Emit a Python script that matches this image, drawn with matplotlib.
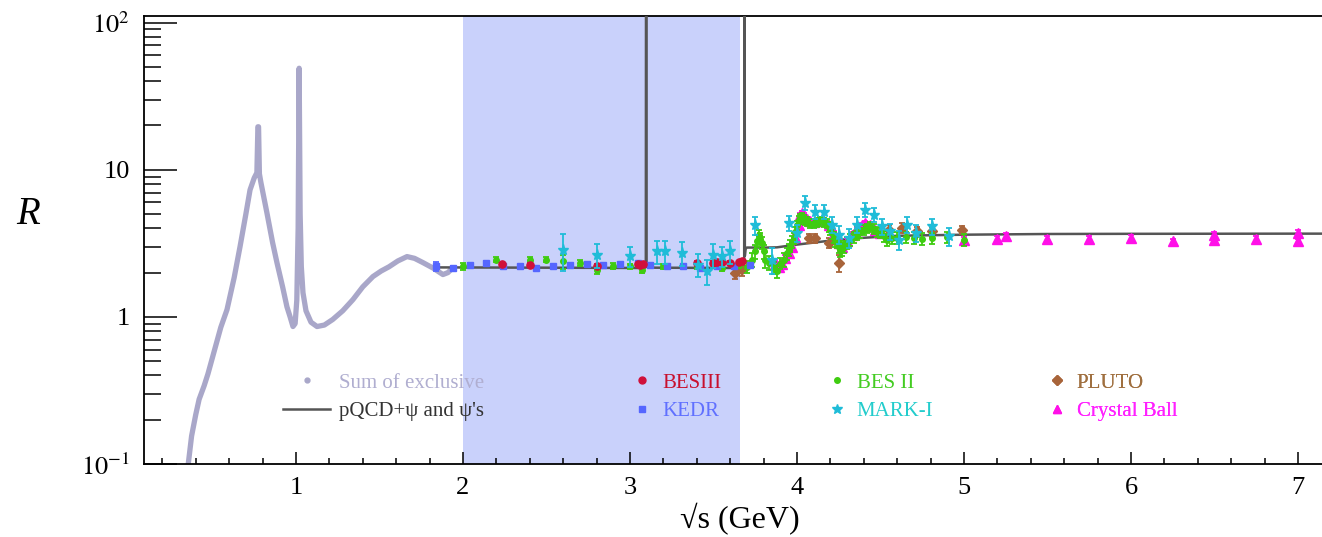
import matplotlib
matplotlib.use("Agg")
import matplotlib.pyplot as plt
from matplotlib.lines import Line2D
from matplotlib.ticker import FixedLocator, FixedFormatter, LogLocator, NullFormatter, MultipleLocator

plt.rcParams['font.family'] = ['Liberation Serif', 'DejaVu Serif']
plt.rcParams['mathtext.fontset'] = 'stix'

# ---- data (sqrt(s) in GeV, R) ----
sum_E = [0.345, 0.355, 0.375, 0.40, 0.42, 0.45, 0.473, 0.52, 0.55, 0.587, 0.63, 0.665,
         0.70, 0.725, 0.75, 0.766, 0.772, 0.776, 0.781, 0.79, 0.826, 0.86, 0.886, 0.92,
         0.946, 0.965, 0.982, 0.995, 1.005, 1.013, 1.019, 1.025, 1.032, 1.042, 1.06,
         1.09, 1.126, 1.17, 1.22, 1.28, 1.341, 1.40, 1.461, 1.51, 1.557, 1.61, 1.665,
         1.71, 1.76, 1.82, 1.88, 1.91, 1.94]
sum_R = [0.085, 0.10, 0.155, 0.217, 0.275, 0.34, 0.41, 0.64, 0.85, 1.12, 1.85, 3.0,
         5.0, 7.3, 8.8, 9.55, 19.6, 19.6, 9.4, 8.2, 5.1, 3.2, 2.34, 1.6,
         1.17, 1.0, 0.86, 0.9, 1.3, 4.0, 49.0, 5.0, 2.2, 1.46, 1.1,
         0.92, 0.86, 0.88, 0.96, 1.1, 1.31, 1.6, 1.88, 2.05, 2.19, 2.4, 2.57,
         2.5, 2.34, 2.15, 1.94, 2.0, 2.16]

pqcd_E = [1.84, 2.5, 3.05, 3.09, 3.095, 3.097, 3.099, 3.104, 3.15, 3.6, 3.680, 3.684,
          3.686, 3.688, 3.692, 3.70, 3.76, 3.82, 3.88, 4.0, 4.2, 4.4, 4.6, 5.0, 5.5,
          6.0, 7.0, 7.2]
pqcd_R = [2.17, 2.16, 2.15, 2.16, 2.3, 5000, 2.3, 2.18, 2.16, 2.15, 2.16, 2.4,
          5000, 2.6, 2.9, 2.96, 2.96, 2.96, 2.97, 3.1, 3.3, 3.45, 3.56, 3.62, 3.66,
          3.67, 3.68, 3.68]

besiii_E = [2.2324, 2.4, 2.8, 3.05, 3.06, 3.08, 3.4, 3.5, 3.52, 3.55, 3.6, 3.65, 3.671]
besiii_R = [2.29, 2.26, 2.23, 2.29, 2.27, 2.30, 2.33, 2.33, 2.35, 2.35, 2.33, 2.35, 2.38]
besiii_err = [0.05, 0.05, 0.05, 0.05, 0.05, 0.05, 0.05, 0.05, 0.05, 0.05, 0.05, 0.05, 0.05]

kedr_E = [1.84, 1.94, 2.04, 2.14, 2.24, 2.34, 2.44, 2.54, 2.64, 2.74, 2.84, 2.94, 3.05,
          3.12, 3.22, 3.32, 3.42, 3.52, 3.62, 3.72]
kedr_R = [2.21, 2.15, 2.26, 2.33, 2.21, 2.21, 2.15, 2.21, 2.24, 2.29, 2.24, 2.29, 2.33,
          2.24, 2.21, 2.21, 2.15, 2.21, 2.21, 2.24]
kedr_err = [0.15, 0.06, 0.06, 0.06, 0.06, 0.06, 0.06, 0.06, 0.06, 0.06, 0.06, 0.06, 0.06,
            0.06, 0.06, 0.06, 0.06, 0.06, 0.06, 0.06]

besii_E = [2.0, 2.2, 2.4, 2.5, 2.6, 2.7, 2.8, 2.9, 3.0, 3.07, 3.2, 3.4, 3.55, 3.65,
           3.70, 3.73, 3.75, 3.76, 3.77, 3.78, 3.79, 3.80, 3.81, 3.83, 3.86, 3.88, 3.90,
           3.92, 3.94, 3.95, 3.96, 3.97, 3.98, 3.99, 4.00, 4.01, 4.02, 4.03, 4.04, 4.05,
           4.06, 4.08, 4.10, 4.12, 4.14, 4.16, 4.18, 4.19, 4.20, 4.21, 4.22, 4.23, 4.24,
           4.25, 4.26, 4.27, 4.28, 4.30, 4.32, 4.34, 4.36, 4.38, 4.40, 4.42, 4.44, 4.46,
           4.48, 4.50, 4.52, 4.54, 4.57, 4.60, 4.65, 4.70, 4.75, 4.81, 4.90, 5.00]
besii_R = [2.21, 2.45, 2.45, 2.45, 2.38, 2.33, 2.09, 2.21, 2.21, 2.09, 2.21, 2.21, 2.15, 2.24,
           2.20, 2.45, 2.79, 3.30, 3.62, 3.40, 3.18, 2.79, 2.45, 2.33, 2.15, 2.04, 2.30,
           2.45, 2.70, 2.86, 3.05, 3.25, 3.44, 3.80, 4.20, 4.58, 4.70, 4.80, 4.60, 4.50,
           4.46, 4.30, 4.35, 4.40, 4.46, 4.40, 4.35, 4.10, 3.90, 3.70, 3.50, 3.30, 3.26,
           3.00, 2.86, 2.90, 3.00, 3.20, 3.35, 3.50, 3.62, 3.75, 3.90, 4.00, 4.10, 3.95,
           3.80, 3.72, 3.55, 3.35, 3.45, 3.45, 3.50, 3.45, 3.40, 3.43, 3.50, 3.35]
besii_err = [0.12, 0.1, 0.1, 0.1, 0.25, 0.1, 0.12, 0.1, 0.08, 0.1, 0.08, 0.1, 0.1, 0.1,
             0.2, 0.25, 0.3, 0.3, 0.3, 0.3, 0.3, 0.3, 0.3, 0.25, 0.2, 0.2, 0.2,
             0.25, 0.25, 0.25, 0.3, 0.3, 0.3, 0.3, 0.3, 0.3, 0.3, 0.3, 0.3, 0.3,
             0.3, 0.3, 0.3, 0.3, 0.3, 0.3, 0.3, 0.3, 0.3, 0.3, 0.3, 0.3, 0.3,
             0.3, 0.3, 0.3, 0.3, 0.3, 0.3, 0.3, 0.3, 0.3, 0.3, 0.3, 0.3, 0.3,
             0.3, 0.3, 0.3, 0.3, 0.3, 0.3, 0.3, 0.3, 0.3, 0.3, 0.3, 0.3]

marki_E = [2.6, 2.8, 3.0, 3.16, 3.21, 3.31, 3.41, 3.46, 3.50, 3.55, 3.60, 3.75, 3.85, 3.95,
           4.0, 4.05, 4.11, 4.16, 4.21, 4.25, 4.31, 4.36, 4.41, 4.46, 4.51, 4.56, 4.61,
           4.66, 4.71, 4.81, 4.91]
marki_R = [2.86, 2.65, 2.58, 2.79, 2.79, 2.72, 2.26, 2.04, 2.65, 2.60, 2.79, 4.2, 2.45, 4.35,
           3.72, 5.95, 5.2, 5.2, 4.24, 3.62, 3.43, 4.24, 5.35, 4.95, 4.12, 3.81, 3.35,
           4.24, 3.72, 4.12, 3.52]
marki_err = [0.8, 0.5, 0.4, 0.5, 0.5, 0.5, 0.4, 0.4, 0.5, 0.4, 0.5, 0.6, 0.5, 0.5,
             0.5, 0.65, 0.55, 0.55, 0.5, 0.5, 0.5, 0.5, 0.55, 0.55, 0.5, 0.5, 0.5,
             0.5, 0.5, 0.5, 0.5]

pluto_E = [3.63, 3.67, 4.07, 4.11, 4.19, 4.25, 4.36, 4.55, 4.63, 4.72, 4.81, 4.99]
pluto_R = [2.0, 2.1, 3.43, 3.43, 3.18, 2.32, 3.81, 3.9, 4.02, 3.81, 3.81, 3.9]
pluto_err = [0.2, 0.2, 0.25, 0.25, 0.25, 0.3, 0.3, 0.3, 0.3, 0.3, 0.3, 0.25]

cb_E = [3.87, 3.89, 3.91, 3.93, 3.95, 3.97, 3.99, 4.01, 4.02, 4.03, 4.04, 4.06, 4.08, 4.10,
        4.13, 4.16, 4.19, 4.22, 4.25, 4.27, 4.30, 4.33, 4.36, 4.39, 4.41, 4.44, 4.47, 4.50,
        5.0, 5.2, 5.25, 5.5, 5.75, 6.0, 6.25, 6.5, 6.5, 6.75, 7.0, 7.0]
cb_R = [2.3, 2.2, 2.3, 2.5, 2.7, 3.0, 3.5, 4.2, 4.9, 5.1, 4.9, 4.6, 4.5, 4.4,
        4.5, 4.5, 4.2, 3.7, 3.2, 3.0, 3.3, 3.6, 3.9, 4.2, 4.35, 4.2, 3.9, 3.7,
        3.35, 3.38, 3.56, 3.38, 3.38, 3.44, 3.26, 3.62, 3.35, 3.38, 3.72, 3.26]

# ---- colours ----
c_sum = '#a9a7c9'
c_pqcd = '#555555'
c_besiii = '#d0103a'
c_kedr = '#5566ff'
c_besii = '#3fcc10'
c_marki = '#1fbcd8'
c_pluto = '#a8643a'
c_cb = '#ff10e8'

fig = plt.figure(figsize=(13.22, 5.37), dpi=100)
ax = fig.add_axes([144 / 1322, 73 / 537, 1178 / 1322, 448 / 537])

ax.axvspan(2.0, 3.66, color='#c9d1fb', lw=0, zorder=0)

ax.plot(sum_E, sum_R, color=c_sum, lw=3.8, solid_capstyle='round', zorder=2)
ax.plot(pqcd_E, pqcd_R, color=c_pqcd, lw=1.8, zorder=3)

eb = dict(ls='none', elinewidth=1.3, capsize=2.2, capthick=1.3)
ax.errorbar(pluto_E, pluto_R, yerr=pluto_err, fmt='D', ms=5, color=c_pluto, zorder=4, **eb)
ax.errorbar(cb_E, cb_R, yerr=[0.15] * len(cb_E), fmt='^', ms=7, color=c_cb, zorder=5, **eb)
ax.errorbar(besii_E, besii_R, yerr=besii_err, fmt='o', ms=4, color=c_besii, zorder=6, **eb)
ax.errorbar(kedr_E, kedr_R, yerr=kedr_err, fmt='s', ms=4.5, color=c_kedr, zorder=6, **eb)
ax.errorbar(besiii_E, besiii_R, yerr=besiii_err, fmt='o', ms=5.2, color=c_besiii, zorder=7, **eb)
ax.errorbar(marki_E, marki_R, yerr=marki_err, fmt='*', ms=8, color=c_marki, zorder=8, **eb)

ax.set_yscale('log')
ax.set_xlim(0.09, 7.144)
ax.set_ylim(0.1, 111)

ax.yaxis.set_major_locator(FixedLocator([0.1, 1, 10, 100]))
ax.yaxis.set_major_formatter(FixedFormatter([r'$10^{-1}$', '1', '10', r'$10^{2}$']))
ax.yaxis.set_minor_locator(LogLocator(base=10, subs=range(2, 10)))
ax.yaxis.set_minor_formatter(NullFormatter())
ax.xaxis.set_major_locator(MultipleLocator(1))
ax.xaxis.set_minor_locator(MultipleLocator(0.2))
ax.set_xticks([1, 2, 3, 4, 5, 6, 7])

ax.tick_params(axis='y', which='major', direction='in', length=24, width=1.1, labelsize=19, pad=10)
ax.tick_params(axis='y', which='minor', direction='in', length=12, width=1.1)
ax.tick_params(axis='x', which='major', direction='in', length=8.5, width=1.1, labelsize=19, pad=9)
ax.tick_params(axis='x', which='minor', direction='in', length=4.3, width=1.1)
ax.tick_params(top=False, right=False, which='both')

ax.spines['right'].set_visible(False)
for s in ['left', 'bottom', 'top']:
    ax.spines[s].set_linewidth(1.3)

ax.set_xlabel('√s (GeV)', fontsize=23)
ax.xaxis.set_label_coords(596 / 1178, -55 / 448)
ax.xaxis.label.set_va('center')
ax.set_ylabel('R', fontsize=28, fontstyle='italic', rotation=0)
ax.yaxis.set_label_coords(-116 / 1178, 249 / 448)
ax.yaxis.label.set_va('center')
ax.yaxis.label.set_ha('center')

# ---- legend, four columns ----
legfs = 15
cols = [
    ([Line2D([], [], marker='o', ls='none', ms=3.5, color=c_sum),
      Line2D([], [], color=c_pqcd, lw=1.8)],
     ['Sum of exclusive', "pQCD+ψ and ψ's"], ['#b0aed0', '#333333'], 283, 2.26),
    ([Line2D([], [], marker='o', ls='none', ms=5, color=c_besiii),
      Line2D([], [], marker='s', ls='none', ms=4.5, color=c_kedr)],
     ['BESIII', 'KEDR'], ['#c8102e', '#6070ff'], 632, 1.0),
    ([Line2D([], [], marker='o', ls='none', ms=4, color=c_besii),
      Line2D([], [], marker='*', ls='none', ms=7, color=c_marki)],
     ['BES II', 'MARK-I'], ['#44cc22', '#22cccc'], 826.6, 1.0),
    ([Line2D([], [], marker='D', ls='none', ms=5, color=c_pluto),
      Line2D([], [], marker='^', ls='none', ms=6, color=c_cb)],
     ['PLUTO', 'Crystal Ball'], ['#a07040', '#ff20ff'], 1046.6, 1.0),
]
for handles, labels, tcolors, x0, hl in cols:
    leg = ax.legend(handles, labels, loc='center left',
                    bbox_to_anchor=(x0 / 1322, 1 - 397 / 537), bbox_transform=fig.transFigure,
                    frameon=False, fontsize=legfs, borderpad=0, borderaxespad=0,
                    handlelength=hl, handletextpad=0.45, labelspacing=0.42)
    for t, c in zip(leg.get_texts(), tcolors):
        t.set_color(c)
    ax.add_artist(leg)

fig.savefig('out.png', dpi=100)
